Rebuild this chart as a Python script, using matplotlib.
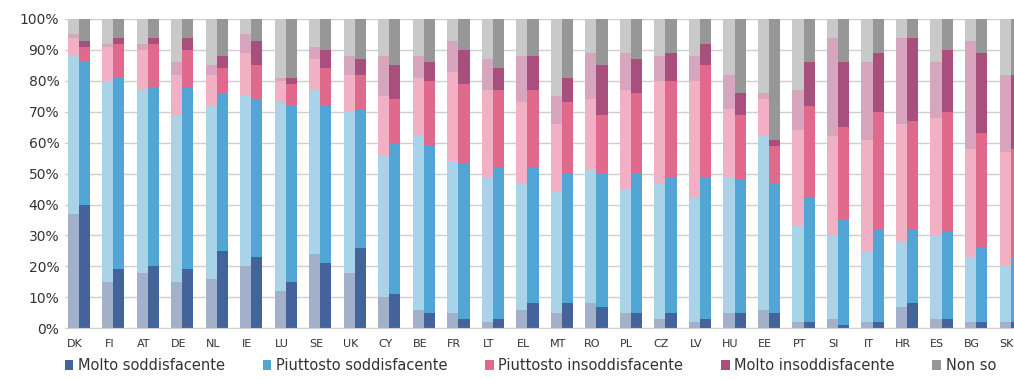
import numpy as np
import matplotlib
matplotlib.use("Agg")
import matplotlib.pyplot as plt
from matplotlib.patches import Patch

# paesi
countries = ["DK", "FI", "AT", "DE", "NL", "IE", "LU", "SE", "UK", "CY", "BE", "FR", "LT", "EL",
             "MT", "RO", "PL", "CZ", "LV", "HU", "EE", "PT", "SI", "IT", "HR", "ES", "BG", "SK"]

# barra chiara (periodo precedente)
molto_sodd_old = [37, 15, 18, 15, 16, 20, 12, 24, 18, 10, 6, 5, 2, 6, 5, 8, 5, 3, 2, 5, 6, 2, 3, 2, 7, 3, 2, 2]
piutt_sodd_old = [51, 65, 59, 54, 56, 55, 61, 53, 52, 46, 56, 49, 47, 41, 39, 43, 40, 44, 40, 44, 56, 31, 27, 23, 21, 27, 21, 18]
piutt_insodd_old = [6, 11, 13, 13, 10, 14, 7, 10, 12, 19, 19, 29, 28, 26, 22, 23, 32, 33, 38, 22, 12, 31, 32, 36, 38, 38, 35, 37]
molto_insodd_old = [1, 1, 2, 4, 3, 6, 1, 4, 6, 13, 7, 10, 10, 15, 9, 15, 12, 8, 8, 11, 2, 13, 32, 25, 28, 18, 35, 25]
non_so_old = [5, 8, 8, 14, 15, 5, 19, 9, 12, 12, 12, 7, 13, 12, 25, 11, 11, 12, 12, 18, 24, 23, 6, 14, 6, 14, 7, 18]

# barra scura (periodo recente)
molto_sodd_new = [40, 19, 20, 19, 25, 23, 15, 21, 26, 11, 5, 3, 3, 8, 8, 7, 5, 5, 3, 5, 5, 2, 1, 2, 8, 3, 2, 2]
piutt_sodd_new = [46, 62, 58, 59, 51, 51, 57, 51, 45, 49, 54, 50, 49, 44, 42, 43, 45, 44, 46, 43, 42, 40, 34, 30, 24, 28, 24, 21]
piutt_insodd_new = [5, 11, 14, 12, 8, 11, 7, 12, 11, 14, 21, 26, 25, 25, 23, 19, 26, 31, 36, 21, 12, 30, 30, 38, 35, 39, 37, 35]
molto_insodd_new = [2, 2, 2, 4, 4, 8, 2, 6, 5, 11, 6, 11, 7, 11, 8, 16, 11, 9, 7, 7, 2, 14, 21, 19, 27, 20, 26, 24]
non_so_new = [7, 6, 6, 6, 12, 7, 19, 10, 13, 15, 14, 10, 16, 12, 19, 15, 13, 11, 8, 24, 39, 14, 14, 11, 6, 10, 11, 18]

labels = ["Molto soddisfacente", "Piuttosto soddisfacente", "Piuttosto insoddisfacente",
          "Molto insoddisfacente", "Non so"]
colors_new = ["#45639b", "#52a6d5", "#e0698c", "#a84f7d", "#979797"]
colors_old = ["#a3b0ca", "#a9d3e9", "#f1b0c3", "#d7a5bd", "#c9c9c9"]

old = [molto_sodd_old, piutt_sodd_old, piutt_insodd_old, molto_insodd_old, non_so_old]
new = [molto_sodd_new, piutt_sodd_new, piutt_insodd_new, molto_insodd_new, non_so_new]

fig = plt.figure(figsize=(10.14, 3.79), dpi=100)
ax = fig.add_axes([0.064, 0.134, 0.936, 0.816])

x = np.arange(len(countries))
w = 0.32

bottom = np.zeros(len(countries))
for vals, c in zip(old, colors_old):
    ax.bar(x - w / 2, vals, w, bottom=bottom, color=c, linewidth=0, zorder=2)
    bottom += np.array(vals)

bottom = np.zeros(len(countries))
for vals, c in zip(new, colors_new):
    ax.bar(x + w / 2, vals, w, bottom=bottom, color=c, linewidth=0, zorder=2)
    bottom += np.array(vals)

ax.set_xlim(-0.406, 27.1)
ax.set_ylim(0, 100)
ax.set_yticks(np.arange(0, 101, 10))
ax.set_yticklabels([f"{v}%" for v in range(0, 101, 10)], fontsize=10, color="#333333")
ax.set_xticks(x - 0.12)
ax.set_xticklabels(countries, fontsize=8, color="#333333")
ax.tick_params(axis="y", length=0, pad=4)
ax.tick_params(axis="x", length=0, pad=8)
ax.yaxis.grid(True, color="#cfcfcf", linewidth=1, zorder=0)
ax.set_axisbelow(True)
for s in ["top", "right", "left"]:
    ax.spines[s].set_visible(False)
ax.spines["bottom"].set_color("#cfcfcf")

handles = [Patch(facecolor=c, edgecolor="none") for c in colors_new]
fig.legend(handles, labels, loc="lower left", bbox_to_anchor=(0.058, 0.0, 0.93, 0.05),
           ncol=5, mode="expand", frameon=False, fontsize=10.5, handlelength=0.6,
           handleheight=0.6, handletextpad=0.3, borderaxespad=0.0, labelcolor="#333333")

fig.savefig("out.png", dpi=100)
